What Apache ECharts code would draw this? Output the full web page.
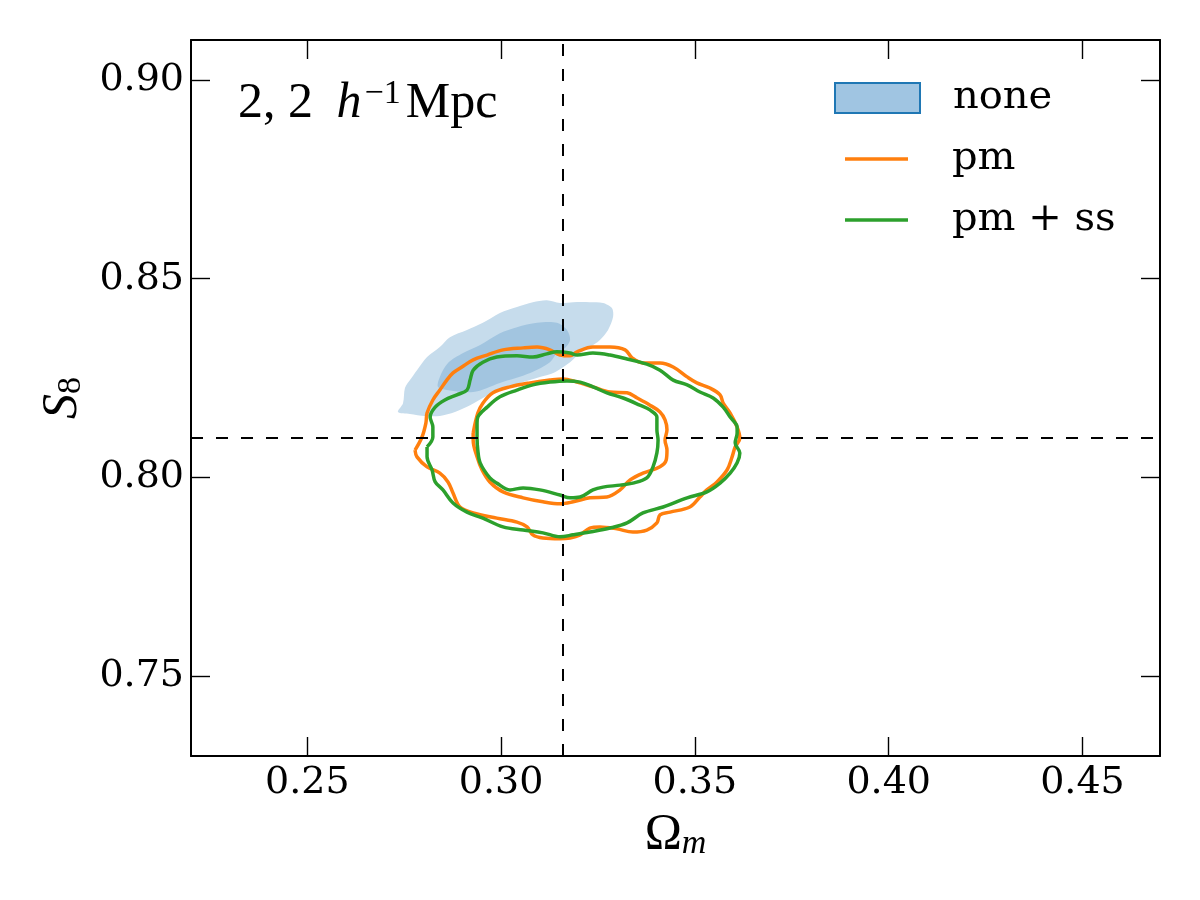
<!DOCTYPE html>
<html><head><meta charset="utf-8">
<script src="https://cdn.jsdelivr.net/npm/echarts@6/dist/echarts.min.js"></script>
<style>html,body{margin:0;padding:0;background:#fff}#c{width:1200px;height:900px}</style>
</head><body><div id="c"></div>
<script>
// axis ranges and ticks
const xRange = [0.22, 0.47];
const yRange = [0.73, 0.91];
const xTicks = [0.25, 0.30, 0.35, 0.40, 0.45];
const yTicks = [0.75, 0.80, 0.85, 0.90];
// fiducial values (dashed lines)
const truthOmegaM = 0.316;
const truthS8 = 0.81;

// "none": filled contours (outer 95%, inner 68%)
const noneOuter = [[0.2734,0.8165],[0.2747,0.8187],[0.2752,0.8225],[0.2765,0.8245],[0.2783,0.8270],[0.2809,0.8303],[0.2842,0.8328],[0.2868,0.8353],[0.2912,0.8371],[0.2953,0.8389],[0.2997,0.8414],[0.3041,0.8429],[0.3082,0.8441],[0.3118,0.8446],[0.3152,0.8439],[0.3186,0.8441],[0.3229,0.8441],[0.3263,0.8439],[0.3286,0.8426],[0.3289,0.8404],[0.3276,0.8371],[0.3255,0.8346],[0.3229,0.8328],[0.3204,0.8313],[0.3178,0.8290],[0.3139,0.8265],[0.3100,0.8253],[0.3049,0.8238],[0.2997,0.8220],[0.2959,0.8203],[0.2920,0.8182],[0.2881,0.8165],[0.2842,0.8155],[0.2804,0.8155],[0.2765,0.8160]];
const noneInner = [[0.2837,0.8228],[0.2842,0.8253],[0.2863,0.8288],[0.2902,0.8313],[0.2946,0.8333],[0.2997,0.8363],[0.3041,0.8378],[0.3093,0.8389],[0.3144,0.8389],[0.3170,0.8371],[0.3178,0.8346],[0.3165,0.8326],[0.3144,0.8313],[0.3126,0.8290],[0.3075,0.8263],[0.2997,0.8238],[0.2928,0.8215],[0.2860,0.8220]];

// "pm": line contours
const pmOuter = [[0.2778,0.8069],[0.2796,0.8102],[0.2806,0.8137],[0.2809,0.8162],[0.2824,0.8195],[0.2842,0.8220],[0.2860,0.8245],[0.2876,0.8263],[0.2899,0.8278],[0.2928,0.8296],[0.2964,0.8308],[0.3005,0.8321],[0.3057,0.8326],[0.3093,0.8328],[0.3126,0.8321],[0.3152,0.8308],[0.3178,0.8306],[0.3196,0.8316],[0.3237,0.8328],[0.3281,0.8328],[0.3320,0.8321],[0.3338,0.8301],[0.3366,0.8288],[0.3410,0.8288],[0.3444,0.8278],[0.3480,0.8253],[0.3505,0.8238],[0.3539,0.8225],[0.3565,0.8208],[0.3573,0.8187],[0.3591,0.8162],[0.3609,0.8127],[0.3616,0.8099],[0.3604,0.8077],[0.3596,0.8052],[0.3583,0.8019],[0.3557,0.7989],[0.3531,0.7969],[0.3513,0.7951],[0.3487,0.7926],[0.3436,0.7913],[0.3410,0.7906],[0.3402,0.7886],[0.3376,0.7868],[0.3340,0.7863],[0.3299,0.7871],[0.3255,0.7876],[0.3229,0.7873],[0.3204,0.7856],[0.3178,0.7848],[0.3152,0.7846],[0.3108,0.7848],[0.3082,0.7856],[0.3067,0.7876],[0.3041,0.7888],[0.2989,0.7898],[0.2928,0.7911],[0.2894,0.7926],[0.2876,0.7961],[0.2863,0.7989],[0.2842,0.8011],[0.2809,0.8027],[0.2783,0.8052]];
const pmInner = [[0.2928,0.8112],[0.2940,0.8162],[0.2953,0.8187],[0.2979,0.8213],[0.3023,0.8228],[0.3075,0.8238],[0.3126,0.8245],[0.3160,0.8248],[0.3196,0.8240],[0.3237,0.8228],[0.3281,0.8215],[0.3325,0.8213],[0.3351,0.8200],[0.3384,0.8182],[0.3410,0.8165],[0.3423,0.8145],[0.3428,0.8120],[0.3423,0.8094],[0.3428,0.8069],[0.3426,0.8044],[0.3410,0.8027],[0.3366,0.8011],[0.3333,0.7994],[0.3307,0.7969],[0.3273,0.7951],[0.3229,0.7949],[0.3186,0.7939],[0.3152,0.7934],[0.3108,0.7939],[0.3057,0.7949],[0.3005,0.7964],[0.2971,0.7989],[0.2951,0.8019],[0.2938,0.8052],[0.2928,0.8094]];

// "pm + ss": line contours
const pmssOuter = [[0.2809,0.8077],[0.2824,0.8102],[0.2824,0.8127],[0.2817,0.8152],[0.2830,0.8177],[0.2855,0.8195],[0.2886,0.8208],[0.2912,0.8220],[0.2920,0.8245],[0.2928,0.8270],[0.2953,0.8290],[0.2989,0.8303],[0.3041,0.8306],[0.3082,0.8303],[0.3118,0.8311],[0.3144,0.8316],[0.3178,0.8313],[0.3196,0.8308],[0.3237,0.8313],[0.3281,0.8308],[0.3325,0.8298],[0.3376,0.8285],[0.3410,0.8270],[0.3444,0.8245],[0.3480,0.8233],[0.3513,0.8215],[0.3547,0.8200],[0.3573,0.8177],[0.3591,0.8152],[0.3609,0.8127],[0.3609,0.8112],[0.3604,0.8087],[0.3616,0.8062],[0.3609,0.8037],[0.3591,0.8011],[0.3565,0.7986],[0.3531,0.7964],[0.3480,0.7949],[0.3418,0.7926],[0.3366,0.7911],[0.3325,0.7886],[0.3281,0.7873],[0.3229,0.7863],[0.3186,0.7856],[0.3152,0.7851],[0.3108,0.7861],[0.3057,0.7868],[0.3005,0.7876],[0.2953,0.7898],[0.2912,0.7913],[0.2876,0.7936],[0.2850,0.7969],[0.2830,0.7989],[0.2822,0.8019],[0.2809,0.8052]];
const pmssInner = [[0.2938,0.8137],[0.2940,0.8152],[0.2964,0.8177],[0.2997,0.8203],[0.3041,0.8220],[0.3082,0.8233],[0.3126,0.8240],[0.3170,0.8243],[0.3204,0.8240],[0.3237,0.8228],[0.3273,0.8213],[0.3315,0.8200],[0.3358,0.8182],[0.3384,0.8170],[0.3402,0.8152],[0.3402,0.8120],[0.3405,0.8094],[0.3402,0.8062],[0.3392,0.8027],[0.3376,0.7999],[0.3340,0.7986],[0.3307,0.7981],[0.3263,0.7976],[0.3237,0.7969],[0.3204,0.7951],[0.3178,0.7949],[0.3152,0.7956],[0.3100,0.7969],[0.3057,0.7974],[0.3023,0.7969],[0.2989,0.7986],[0.2971,0.7999],[0.2946,0.8037],[0.2940,0.8069],[0.2938,0.8102]];

const C_LIGHT = '#c6dcec', C_DARK = '#a2c5e0', C_EDGE = '#1f77b4';
const C_PM = '#ff7f0e', C_PMSS = '#2ca02c';

const chart = echarts.init(document.getElementById('c'), null, {renderer: 'canvas'});
const close = pts => pts.concat([pts[0]]);

function fillSeries(name, pts, color, z) {
  return {
    type: 'custom', name: name, data: pts, encode: {x: 0, y: 1}, z: z, silent: true,
    itemStyle: {color: color},
    renderItem: function (params, api) {
      if (params.dataIndex !== 0) return null;
      return {type: 'polygon', shape: {points: pts.map(p => api.coord(p)), smooth: 0.3},
              style: {fill: color, stroke: null}};
    }
  };
}
function lineSeries(name, pts, color, extra) {
  return Object.assign({
    type: 'line', name: name, data: close(pts), smooth: 0.35, symbol: 'none', z: 4,
    lineStyle: {color: color, width: 3.5}, itemStyle: {color: color}, silent: true
  }, extra || {});
}

const tickStyle = {color: '#000', width: 1.4};
const axisLineStyle = {color: '#000', width: 2};
const serif = 'DejaVu Serif', math = 'Liberation Serif';
const legendText = {fontFamily: serif, fontSize: 40, color: '#000', lineHeight: 44};

const option = {
  animation: false,
  backgroundColor: '#fff',
  grid: {left: 191, right: 40, top: 40, bottom: 144, containLabel: false},
  title: {
    text: '{n|2, 2}{g| }{h|h}{s|−1}{n|Mpc}',
    left: 238, top: 77, padding: 0,
    textStyle: {fontWeight: 'normal', rich: {
      n: {fontFamily: math, fontWeight: 'normal', fontSize: 50, lineHeight: 54, color: '#000'},
      g: {fontFamily: math, fontWeight: 'normal', fontSize: 50, lineHeight: 54, color: '#000', padding: [0, 11, 0, 0]},
      h: {fontFamily: math, fontWeight: 'normal', fontStyle: 'italic', fontSize: 50, lineHeight: 54, color: '#000', padding: [0, 3, 0, 0]},
      s: {fontFamily: math, fontWeight: 'normal', fontSize: 34, lineHeight: 20, color: '#000', verticalAlign: 'top', padding: [0, 5, 0, 0]}
    }}
  },
  legend: [
    {data: [{name: 'none', icon: 'rect', itemStyle: {color: '#a0c5e2', borderColor: C_EDGE, borderWidth: 2}}],
     left: 834, top: 76, padding: 0, itemWidth: 85, itemHeight: 30, selectedMode: false,
     textStyle: Object.assign({}, legendText, {padding: [0, 0, 0, 28]})},
    {data: [{name: 'pm', icon: 'rect'}],
     left: 845, top: 137, padding: 0, itemWidth: 63, itemHeight: 3.5, selectedMode: false,
     textStyle: Object.assign({}, legendText, {padding: [0, 0, 0, 39]})},
    {data: [{name: 'pm + ss', icon: 'rect'}],
     left: 845, top: 198, padding: 0, itemWidth: 63, itemHeight: 3.5, selectedMode: false,
     textStyle: Object.assign({}, legendText, {padding: [0, 0, 0, 39]})}
  ],
  xAxis: [
    {type: 'value', min: xRange[0], max: xRange[1], position: 'bottom',
     axisLine: {show: true, onZero: false, lineStyle: axisLineStyle},
     axisTick: {show: true, inside: true, length: 19, lineStyle: tickStyle, customValues: xTicks},
     axisLabel: {show: true, customValues: xTicks, formatter: v => v.toFixed(2), fontFamily: serif, fontSize: 38, color: '#000', margin: 8},
     splitLine: {show: false},
     name: '{o|Ω}{m|m}', nameLocation: 'middle', nameGap: 53,
     nameTextStyle: {rich: {
       o: {fontFamily: math, fontSize: 50, lineHeight: 52, color: '#000'},
       m: {fontFamily: math, fontStyle: 'italic', fontSize: 34, lineHeight: 28, color: '#000', verticalAlign: 'bottom'}
     }}},
    {type: 'value', min: xRange[0], max: xRange[1], position: 'top',
     axisLine: {show: true, onZero: false, lineStyle: axisLineStyle},
     axisTick: {show: true, inside: true, length: 19, lineStyle: tickStyle, customValues: xTicks},
     axisLabel: {show: false}, splitLine: {show: false}}
  ],
  yAxis: [
    {type: 'value', min: yRange[0], max: yRange[1], position: 'left',
     axisLine: {show: true, onZero: false, lineStyle: axisLineStyle},
     axisTick: {show: true, inside: true, length: 19, lineStyle: tickStyle, customValues: yTicks},
     axisLabel: {show: true, customValues: yTicks, formatter: v => v.toFixed(2), fontFamily: serif, fontSize: 38, color: '#000', margin: 7},
     splitLine: {show: false},
     name: '{s|S}{e|8}', nameLocation: 'middle', nameGap: 102, nameRotate: 90,
     nameTextStyle: {rich: {
       s: {fontFamily: math, fontStyle: 'italic', fontSize: 50, lineHeight: 52, color: '#000'},
       e: {fontFamily: math, fontSize: 34, lineHeight: 28, color: '#000', verticalAlign: 'bottom'}
     }}},
    {type: 'value', min: yRange[0], max: yRange[1], position: 'right',
     axisLine: {show: true, onZero: false, lineStyle: axisLineStyle},
     axisTick: {show: true, inside: true, length: 19, lineStyle: tickStyle, customValues: yTicks},
     axisLabel: {show: false}, splitLine: {show: false}}
  ],
  series: [
    fillSeries('none', noneOuter, C_LIGHT, 1),
    fillSeries('none', noneInner, C_DARK, 2),
    lineSeries('pm', pmOuter, C_PM),
    lineSeries('pm', pmInner, C_PM),
    lineSeries('pm + ss', pmssOuter, C_PMSS),
    lineSeries('pm + ss', pmssInner, C_PMSS, {
      markLine: {silent: true, symbol: ['none', 'none'], precision: 4, label: {show: false},
                 lineStyle: {color: '#000', width: 2, type: [12, 13]},
                 data: [{xAxis: truthOmegaM}, {yAxis: truthS8}]}
    })
  ]
};
chart.setOption(option);
</script>
</body></html>
